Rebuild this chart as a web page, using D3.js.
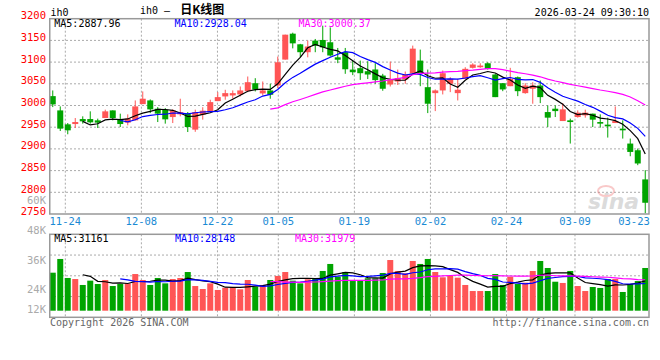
<!DOCTYPE html>
<html><head><meta charset="utf-8">
<script src="https://cdn.jsdelivr.net/npm/d3@7/dist/d3.min.js"></script>
<style>body{margin:0;background:#fff}svg{display:block}</style>
</head><body><svg id="c" width="660" height="360"></svg>
<script>
const dates = ["11-20","11-21","11-24","11-25","11-26","11-27","11-28","12-01","12-02","12-03","12-04","12-05","12-08","12-09","12-10","12-11","12-12","12-15","12-16","12-17","12-18","12-19","12-22","12-23","12-24","12-25","12-26","12-29","12-30","12-31","01-05","01-06","01-07","01-08","01-09","01-12","01-13","01-14","01-15","01-16","01-19","01-20","01-21","01-22","01-23","01-26","01-27","01-28","01-29","01-30","02-02","02-03","02-04","02-05","02-06","02-09","02-10","02-11","02-12","02-13","02-24","02-25","02-26","02-27","03-02","03-03","03-04","03-05","03-06","03-09","03-10","03-11","03-12","03-13","03-16","03-17","03-18","03-19","03-20","03-23"];
const openP  = [3021.6,2988.7,2956.6,2957.3,2968.8,2968.8,2965.8,2971.1,2988.7,2968.1,2960.5,2965.8,3003.2,3011.7,2992.6,2990.4,2973.4,2979.6,2981.2,2944.4,2979.0,2984.9,3010.1,3020.9,3023.2,3025.5,3033.1,3051.4,3027.8,3034.7,3046.0,3105.8,3165.5,3141.0,3122.8,3149.5,3151.0,3145.7,3111.0,3122.8,3082.8,3086.0,3079.0,3083.0,3069.0,3048.4,3055.3,3060.0,3073.6,3103.5,3042.2,3028.5,3034.7,3050.0,3028.5,3061.5,3086.8,3088.2,3097.3,3071.4,3051.4,3044.5,3065.2,3028.5,3038.6,3046.1,2984.9,2992.6,2964.2,2965.8,2973.4,2977.3,2981.2,2961.9,2955.9,2959.6,2946.7,2912.3,2896.9,2829.7];
const highP  = [3034.7,2997.9,2959.6,2971.1,2975.0,2986.5,2969.7,2990.4,2988.7,2981.2,2979.6,3011.7,3032.4,3014.0,2996.3,2994.0,2991.1,3015.6,2984.9,2990.4,2996.0,3013.3,3030.8,3036.2,3034.7,3043.8,3066.8,3062.9,3055.3,3050.0,3112.7,3163.2,3167.8,3142.0,3149.5,3153.3,3183.9,3180.0,3132.6,3132.6,3103.5,3103.5,3102.0,3097.5,3073.0,3101.2,3082.8,3078.3,3138.0,3128.8,3082.8,3037.0,3080.6,3065.2,3061.5,3088.2,3097.3,3097.3,3099.6,3073.0,3051.4,3086.8,3066.8,3051.4,3053.7,3057.6,3000.2,3000.2,3005.5,2969.7,2988.7,2990.4,2981.2,2979.6,2972.0,2997.9,2965.8,2923.8,2900.8,2851.0];
const lowP   = [2996.3,2941.2,2933.7,2948.1,2958.2,2958.2,2948.1,2971.1,2965.8,2950.4,2954.3,2965.8,3003.2,2982.5,2961.9,2958.2,2959.6,2975.0,2938.9,2939.4,2967.4,2984.9,3010.1,3013.3,3015.6,3020.9,3030.8,3032.4,3023.2,3015.6,3040.0,3105.8,3131.6,3112.0,3111.0,3122.8,3122.8,3112.7,3097.5,3073.0,3070.0,3059.0,3061.0,3050.0,3034.0,3043.8,3047.3,3050.0,3073.6,3044.5,2982.5,2987.1,3025.5,3030.8,3011.7,3061.5,3085.2,3086.8,3082.8,3019.3,3033.0,3044.5,3021.6,3027.1,3004.1,3005.5,2950.4,2973.4,2964.2,2912.3,2972.0,2972.0,2950.4,2949.0,2926.1,2959.6,2923.8,2883.1,2862.5,2751.6];
const closeP = [3002.5,2946.7,2942.8,2961.9,2963.5,2961.2,2960.5,2986.5,2971.1,2957.3,2969.7,2997.9,3015.6,2991.1,2981.2,2968.1,2988.7,2984.9,2950.4,2984.9,2988.0,3007.8,3019.3,3028.5,3028.5,3034.7,3053.7,3036.9,3034.7,3024.8,3099.6,3163.2,3143.2,3122.8,3135.9,3138.0,3134.0,3115.2,3105.5,3083.5,3076.7,3074.4,3071.4,3058.5,3038.6,3059.2,3063.3,3071.4,3131.0,3073.0,3004.1,3034.7,3074.4,3061.5,3036.3,3084.5,3094.4,3092.0,3084.5,3019.3,3037.0,3061.5,3033.0,3046.1,3046.1,3019.3,2972.0,2987.1,2991.1,2961.9,2983.5,2983.5,2967.4,2958.2,2952.0,2964.2,2942.8,2893.0,2866.4,2775.9];
const volume = [39600,53900,34100,33000,26800,31300,27800,32000,25700,27800,28500,38200,32000,26800,34100,28500,33000,34100,40300,25700,22600,28500,21600,24000,24700,22300,32000,25000,26800,32000,36200,40300,31300,28500,32700,34100,41400,48700,35400,40300,30900,32000,33800,33800,39300,52800,41400,39000,51800,48700,53900,40300,34800,36200,34400,26800,20500,20500,20500,38200,26800,35400,27800,29200,41400,51800,44500,30200,28900,41400,25700,20500,24700,23700,33000,33000,19500,27800,30900,44500];
const priceTicks = [3200,3150,3100,3050,3000,2950,2900,2850,2800,2750];
const dateTicks = ["11-24","12-08","12-22","01-05","01-19","02-02","02-24","03-09","03-23"];
const volTickValues = [60000,48000,36000,24000,12000];
const volTickLabels = ["60K","48K","36K","24K","12K"];
const priceLegend = ["MA5:2887.96","MA10:2928.04","MA30:3000.37"];
const volLegend = ["MA5:31161","MA10:28148","MA30:31979"];
const maPeriods = [5,10,30];
const maColors = ["#000000","#0000ff","#ff00ff"];

const svg = d3.select("#c");
const MONO = "'DejaVu Sans Mono', monospace";
const L = 49, R = 649;
const main = {top: 18.7, bottom: 214};
const vol = {top: 234.3, bottom: 317.3, base: 310.7};
const RED = "#ff5555", GREEN = "#00a400", GRID = "#aaaaaa", BORDER = "#999999";

const x = d3.scaleBand().domain(dates).range([L, R]).paddingInner(0.2).paddingOuter(0.1);
const xc = d => x(d) + x.bandwidth()/2;
const xg = d3.scalePoint().domain(dates).range([50.1, 50.1 + 79*7.607]);
const y = d3.scaleLinear().domain([2750, 3200]).range([main.bottom, main.top]);
const yv = d3.scaleLinear().domain([0, 79600]).range([vol.base, vol.base - 76.4]);
const yvl = d3.scaleLinear().domain([60000, 24000]).range([204, 293.3]);

function ma(arr, n){ return arr.map((d,i)=> i < n-1 ? null : d3.mean(arr.slice(i-n+1, i+1))); }

// grids
const gridTicks = dateTicks.filter(d => xg(d) < R - 4);
svg.append("g").selectAll("line").data(gridTicks).join("line")
  .attr("x1", d=>xg(d)).attr("x2", d=>xg(d)).attr("y1", main.top).attr("y2", main.bottom)
  .attr("stroke", GRID).attr("stroke-dasharray","2,2");
svg.append("g").selectAll("line").data(priceTicks.slice(1,-1)).join("line")
  .attr("x1", L+1).attr("x2", R).attr("y1", d=>y(d)).attr("y2", d=>y(d))
  .attr("stroke", GRID).attr("stroke-dasharray","2,2");
svg.append("g").selectAll("line").data(gridTicks).join("line")
  .attr("x1", d=>xg(d)).attr("x2", d=>xg(d)).attr("y1", vol.top).attr("y2", vol.bottom)
  .attr("stroke", GRID).attr("stroke-dasharray","2,2");
svg.append("g").selectAll("line").data([1,2,3]).join("line")
  .attr("x1", L+1).attr("x2", R).attr("y1", d=>vol.top + d*(vol.bottom-vol.top)/4).attr("y2", d=>vol.top + d*(vol.bottom-vol.top)/4)
  .attr("stroke", GRID).attr("stroke-dasharray","2,2");

// watermark
const wm = svg.append("g").attr("opacity",0.35);
wm.append("text").attr("x", 588).attr("y", 209).attr("font-family","'DejaVu Sans', sans-serif")
  .attr("font-size",22).attr("font-weight","bold").attr("font-style","italic").attr("fill","#999").text("sina");
wm.append("ellipse").attr("cx",606).attr("cy",191).attr("rx",8).attr("ry",5).attr("fill","none").attr("stroke","#e66").attr("stroke-width",2);

// candles
const idx = d3.range(dates.length);
const cg = svg.append("g");
cg.selectAll("line").data(idx).join("line")
  .attr("x1", i=>xc(dates[i])).attr("x2", i=>xc(dates[i]))
  .attr("y1", i=>y(highP[i])).attr("y2", i=>y(lowP[i]))
  .attr("stroke", i=> closeP[i] >= openP[i] ? RED : GREEN).attr("stroke-width",1);
cg.selectAll("rect").data(idx).join("rect")
  .attr("x", i=>x(dates[i])).attr("width", x.bandwidth())
  .attr("y", i=>y(Math.max(openP[i], closeP[i])))
  .attr("height", i=>Math.max(1.5, Math.abs(y(openP[i]) - y(closeP[i]))))
  .attr("fill", i=> closeP[i] >= openP[i] ? RED : GREEN);

// price MA lines
maPeriods.forEach((n,k)=>{
  const m = ma(closeP, n);
  svg.append("path").datum(idx)
    .attr("d", d3.line().defined(i=>m[i]!=null).x(i=>xc(dates[i])).y(i=>y(m[i])))
    .attr("fill","none").attr("stroke", maColors[k]).attr("stroke-width",1.2);
});

// volume bars
svg.append("g").selectAll("rect").data(idx).join("rect")
  .attr("x", i=>x(dates[i])).attr("width", x.bandwidth())
  .attr("y", i=>yv(volume[i])).attr("height", i=>yv(0) - yv(volume[i]))
  .attr("fill", i=> closeP[i] >= openP[i] ? RED : GREEN);
maPeriods.forEach((n,k)=>{
  const m = ma(volume, n);
  svg.append("path").datum(idx)
    .attr("d", d3.line().defined(i=>m[i]!=null).x(i=>xc(dates[i])).y(i=>yv(m[i])))
    .attr("fill","none").attr("stroke", maColors[k]).attr("stroke-width",1.2);
});

// borders
svg.append("rect").attr("x", L+0.75).attr("y", main.top).attr("width", R-L-0.75).attr("height", main.bottom-main.top)
  .attr("fill","none").attr("stroke",BORDER).attr("stroke-width",1.5);
svg.append("rect").attr("x", L+0.75).attr("y", vol.top).attr("width", R-L-0.75).attr("height", vol.bottom-vol.top)
  .attr("fill","none").attr("stroke",BORDER).attr("stroke-width",1.5);

// price axis labels
svg.append("g").selectAll("text").data(priceTicks).join("text")
  .attr("x", 46).attr("y", d=>y(d)+0.5).attr("text-anchor","end")
  .attr("font-family",MONO).attr("font-size",10.5).attr("fill","#ff0000").text(d=>d);

// volume axis labels
svg.append("g").selectAll("text").data(volTickValues).join("text")
  .attr("x", 46).attr("y", (d)=>Math.min(yvl(d), 313.3)).attr("text-anchor","end")
  .attr("font-family",MONO).attr("font-size",10.5).attr("fill","#aaaaaa").text((d,i)=>volTickLabels[i]);

// date labels
svg.append("g").selectAll("text").data(dateTicks).join("text")
  .attr("x", d=>Math.min(xg(d), R - 15)).attr("y", 225).attr("text-anchor","middle")
  .attr("font-family",MONO).attr("font-size",10.5).attr("fill","#1a8ad4").text(d=>d);

// legends
const legX = [54.3, 174.5, 298.5];
priceLegend.forEach((t,k)=> svg.append("text").attr("x",legX[k]).attr("y",27.3)
  .attr("font-family",MONO).attr("font-size",10).attr("fill",maColors[k]).text(t));
const vlegX = [54.3, 175, 295];
volLegend.forEach((t,k)=> svg.append("text").attr("x",vlegX[k]).attr("y",241.7)
  .attr("font-family",MONO).attr("font-size",10).attr("fill",maColors[k]).text(t));

// header
svg.append("text").attr("x",50.5).attr("y",15.7).attr("font-family",MONO).attr("font-size",10).attr("fill","#000").text("ih0");
const title = svg.append("text").attr("x",140).attr("y",14).attr("font-size",12).attr("fill","#000");
title.append("tspan").attr("font-family",MONO).attr("font-size",10).text("ih0 \u2014 ");
title.append("tspan").attr("font-family","'Noto Sans CJK SC', sans-serif").attr("font-weight","bold").attr("dx",4).text("日K线图");
svg.append("text").attr("x",649).attr("y",15.7).attr("text-anchor","end").attr("font-family",MONO).attr("font-size",10).attr("fill","#000").text("2026-03-24 09:30:10");

// footer
svg.append("text").attr("x",50).attr("y",325.7).attr("font-family",MONO).attr("font-size",10).attr("fill","#666").text("Copyright 2026 SINA.COM");
svg.append("text").attr("x",649).attr("y",325.7).attr("text-anchor","end").attr("font-family",MONO).attr("font-size",10).attr("fill","#666").text("http://finance.sina.com.cn");
</script></body></html>
